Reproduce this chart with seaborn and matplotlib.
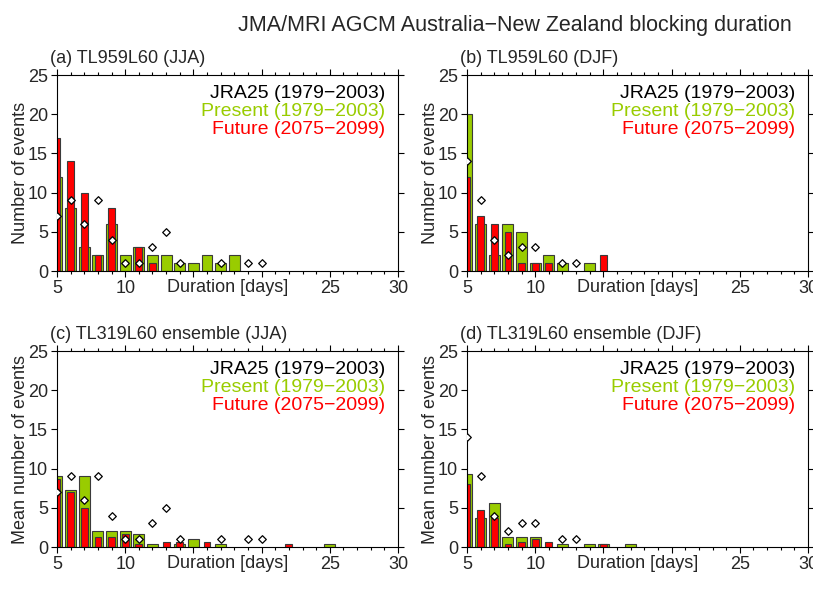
"""Blocking duration histograms, JMA/MRI AGCM, Australia-New Zealand."""

import matplotlib
matplotlib.use("Agg")
import pandas as pd
import matplotlib.pyplot as plt
from matplotlib.ticker import MultipleLocator, FixedFormatter, FixedLocator
import seaborn as sns


# ====== Data (durations 5..25 days) ======
DAYS = list(range(5, 26))

# JRA25 reanalysis 1979-2003 (diamonds)
jra_jja = [7, 9, 6, 9, 4, 1, 1, 3, 5, 1, 0, 0, 1, 0, 1, 1, 0, 0, 0, 0, 0]
jra_djf = [14, 9, 4, 2, 3, 3, 0, 1, 1, 0, 0, 0, 0, 0, 0, 0, 0, 0, 0, 0, 0]

# TL959L60 present / future
present_a = [12, 8, 3, 2, 6, 2, 3, 2, 2, 1, 1, 2, 1, 2, 0, 0, 0, 0, 0, 0, 0]
future_a = [17, 14, 10, 2, 8, 0, 3, 1, 0, 0, 0, 0, 0, 0, 0, 0, 0, 0, 0, 0, 0]
present_b = [20, 6, 2, 6, 5, 1, 2, 1, 0, 1, 0, 0, 0, 0, 0, 0, 0, 0, 0, 0, 0]
future_b = [12, 7, 6, 5, 1, 1, 1, 0, 0, 0, 2, 0, 0, 0, 0, 0, 0, 0, 0, 0, 0]

# TL319L60 ensemble mean present / future
present_c = [9.0, 7.33, 9.0, 2.0, 2.0, 2.0, 1.67, 0.33, 0, 0.33, 1.0,
             0, 0.33, 0, 0, 0, 0, 0, 0, 0, 0.33]
future_c = [8.67, 7.0, 5.0, 1.33, 1.33, 1.67, 0.33, 0, 0.67, 0.67, 0,
            0.67, 0, 0, 0, 0, 0, 0.33, 0, 0, 0]
present_d = [9.33, 3.67, 5.67, 1.33, 1.33, 1.33, 0, 0.33, 0, 0.33, 0.33,
             0, 0.33, 0, 0, 0, 0, 0, 0, 0, 0]
future_d = [8.0, 4.67, 3.67, 0.33, 0.67, 1.0, 0.67, 0, 0, 0, 0.33,
            0, 0, 0, 0, 0, 0, 0, 0, 0, 0]

# x tick labels (15 and 20 are covered by the axis title)
X_TICKS = [5, 10, 15, 20, 25, 30]
X_TICK_LABELS = ["5", "10", "", "", "25", "30"]

GREEN = "#99cc00"
RED = "#ff0000"
EDGE = "#3a3a3a"
MINUS = "\u2212"


def draw_panel(ax, present, future, jra, ylabel):
    """Один график: столбцы Present/Future и ромбы JRA25."""
    df = pd.DataFrame({"day": DAYS, "present": present,
                       "future": future, "jra": jra})

    sns.barplot(data=df[df["present"] > 0], x="day", y="present",
                native_scale=True, width=0.8, color=GREEN, saturation=1,
                edgecolor=EDGE, linewidth=0.8, errorbar=None, ax=ax)
    sns.barplot(data=df[df["future"] > 0], x="day", y="future",
                native_scale=True, width=0.5, color=RED, saturation=1,
                edgecolor=EDGE, linewidth=0.8, errorbar=None, ax=ax)
    sns.scatterplot(data=df[df["jra"] > 0], x="day", y="jra", marker="D",
                    color="white", edgecolor="black", linewidth=0.9, s=15,
                    zorder=5, ax=ax)
    # ромбы на краю оси обрезаются, как в оригинале
    for coll in ax.collections:
        coll.set_clip_path(ax.patch)

    ax.set_xlim(5, 30)
    ax.set_ylim(0, 25)
    ax.xaxis.set_major_locator(FixedLocator(X_TICKS))
    ax.xaxis.set_major_formatter(FixedFormatter(X_TICK_LABELS))
    ax.xaxis.set_minor_locator(MultipleLocator(1))
    ax.yaxis.set_major_locator(MultipleLocator(5))
    ax.tick_params(which="both", direction="out", top=True, right=True,
                   labelsize=13, width=0.8, color="black", pad=2)
    ax.tick_params(which="major", length=4.5)
    ax.tick_params(which="minor", length=2.5)
    ax.tick_params(axis="y", which="minor", left=False, right=False)
    for sp in ax.spines.values():
        sp.set_linewidth(0.8)
        sp.set_color("black")

    ax.set_xlabel("Duration [days]", fontsize=13)
    ax.xaxis.set_label_coords(0.5, -0.042)
    ax.set_ylabel(ylabel, fontsize=13)
    ax.yaxis.set_label_coords(-0.082, 0.5)

    period = f"1979{MINUS}2003"
    ax.text(0.962, 0.883, f"JRA25 ({period})", color="black",
            transform=ax.transAxes, ha="right", va="baseline", fontsize=14)
    ax.text(0.962, 0.791, f"Present ({period})", color=GREEN,
            transform=ax.transAxes, ha="right", va="baseline", fontsize=14)
    ax.text(0.962, 0.699, f"Future (2075{MINUS}2099)", color=RED,
            transform=ax.transAxes, ha="right", va="baseline", fontsize=14)


def main():
    sns.set_style("ticks")
    plt.rcParams["font.family"] = ["Liberation Sans", "DejaVu Sans"]

    fig = plt.figure(figsize=(8.13, 5.89), dpi=100)
    w, h = 341 / 813, 196 / 589
    ax_a = fig.add_axes([57 / 813, 1 - 271 / 589, w, h])
    ax_b = fig.add_axes([467 / 813, 1 - 271 / 589, w, h])
    ax_c = fig.add_axes([57 / 813, 1 - 547 / 589, w, h])
    ax_d = fig.add_axes([467 / 813, 1 - 547 / 589, w, h])

    draw_panel(ax_a, present_a, future_a, jra_jja, "Number of events")
    draw_panel(ax_b, present_b, future_b, jra_djf, "Number of events")
    draw_panel(ax_c, present_c, future_c, jra_jja, "Mean number of events")
    draw_panel(ax_d, present_d, future_d, jra_djf, "Mean number of events")

    fig.text(515 / 813, 1 - 31 / 589,
             f"JMA/MRI AGCM Australia{MINUS}New Zealand blocking duration",
             ha="center", va="baseline", fontsize=15.5)
    labels = [
        (50, 63, "(a) TL959L60 (JJA)"),
        (460, 63, "(b) TL959L60 (DJF)"),
        (50, 339, "(c) TL319L60 ensemble (JJA)"),
        (460, 339, "(d) TL319L60 ensemble (DJF)"),
    ]
    for x, y, text in labels:
        fig.text(x / 813, 1 - y / 589, text, ha="left", va="baseline",
                 fontsize=13)

    fig.savefig("out.png", dpi=100)


if __name__ == "__main__":
    main()
